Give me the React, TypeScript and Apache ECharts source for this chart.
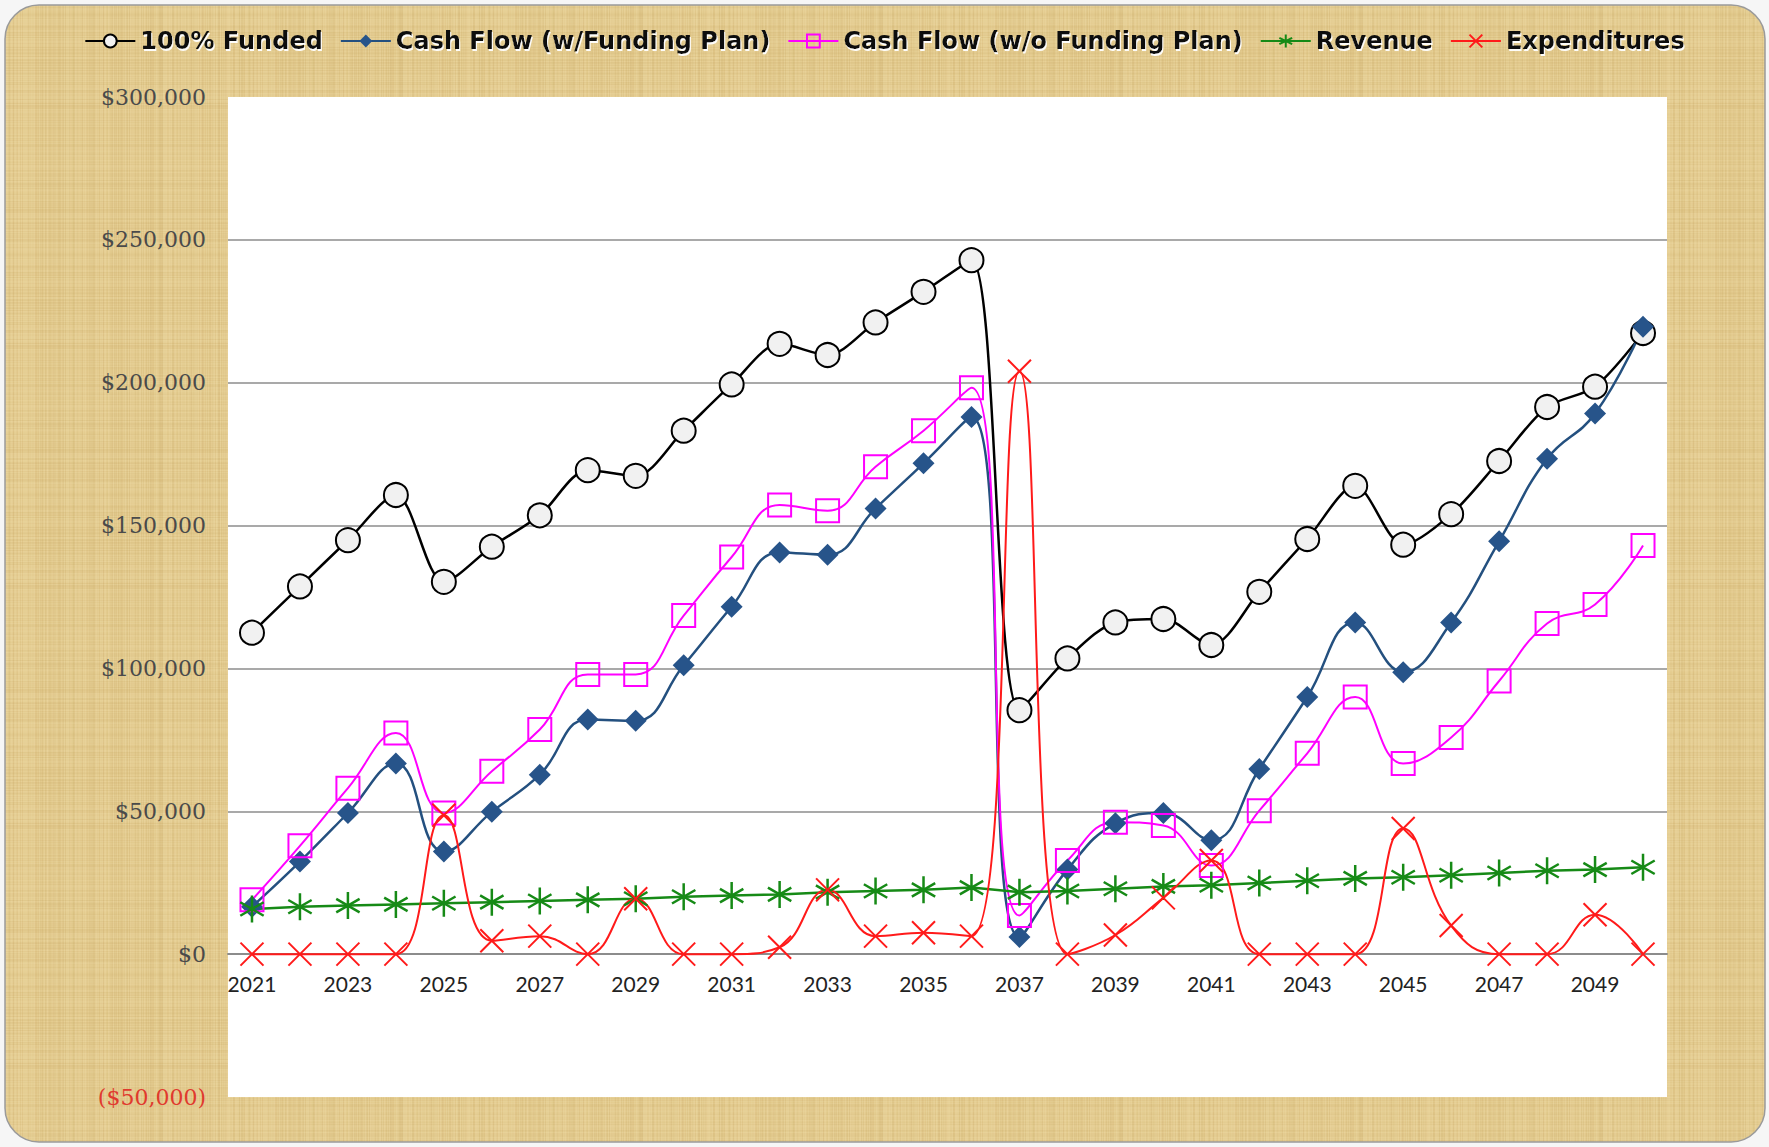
import React, { useEffect, useRef } from "react";
import * as echarts from "echarts";

const years = [
  "2021", "2022", "2023", "2024", "2025", "2026", "2027", "2028", "2029", "2030",
  "2031", "2032", "2033", "2034", "2035", "2036", "2037", "2038", "2039", "2040",
  "2041", "2042", "2043", "2044", "2045", "2046", "2047", "2048", "2049", "2050",
];

const funded100 = [
  112500, 128700, 144900, 160700, 130300, 142600, 153600, 169400, 167400, 183200,
  199400, 213600, 209700, 221100, 231800, 242900, 85400, 103500, 116100, 117300,
  108200, 126800, 145300, 163900, 143300, 154000, 172600, 191500, 198600, 217400,
];

const cashWithPlan = [
  16600, 32400, 49400, 66700, 35900, 49800, 62800, 82100, 81700, 101100,
  121600, 140600, 139800, 156000, 171800, 188000, 6000, 29600, 45800, 49400,
  39900, 64800, 90000, 116100, 98700, 116100, 144500, 173400, 189200, 219600,
];

const cashWithoutPlan = [
  19000, 37900, 58100, 77400, 49400, 64000, 78600, 97900, 97900, 118500,
  139000, 157200, 155200, 170600, 183200, 198200, 13500, 32800, 46200, 45000,
  31000, 50200, 70300, 90000, 66700, 75800, 95600, 115700, 122400, 143000,
];

const revenue = [
  15800, 16600, 17000, 17400, 17800, 18200, 18600, 19000, 19400, 20100,
  20500, 20900, 21700, 22100, 22500, 23300, 21700, 22100, 22900, 23700,
  24100, 24900, 25700, 26500, 26900, 27600, 28400, 29200, 29600, 30400,
];

const expenditures = [
  0, 0, 0, 0, 48600, 4700, 6300, 0, 19400, 0,
  0, 2400, 22500, 6300, 7500, 6300, 204000, 0, 6700, 19700,
  32800, 0, 0, 0, 44000, 10000, 0, 0, 13800, 0,
];

const seriesNames = [
  "100% Funded",
  "Cash Flow (w/Funding Plan)",
  "Cash Flow (w/o Funding Plan)",
  "Revenue",
  "Expenditures",
];

const yMin = -50000;
const yMax = 300000;
const yStep = 50000;

const W = 1769;
const H = 1147;
const gridTop = 97;
const gridBottom = 50;

function makeParchment(): HTMLCanvasElement {
  const c = document.createElement("canvas");
  c.width = 240;
  c.height = 240;
  const ctx = c.getContext("2d")!;
  ctx.fillStyle = "#e3cb8f";
  ctx.fillRect(0, 0, 240, 240);
  let seed = 12345;
  const rnd = () => {
    seed = (seed * 1103515245 + 12345) % 2147483648;
    return seed / 2147483648;
  };
  for (let x = 0; x < 240; x++) {
    const a = rnd() * 0.2;
    ctx.fillStyle = rnd() > 0.5 ? `rgba(195,160,90,${a})` : `rgba(248,232,185,${a})`;
    ctx.fillRect(x, 0, 1, 240);
  }
  for (let y = 0; y < 240; y++) {
    const a = rnd() * 0.14;
    ctx.fillStyle = rnd() > 0.5 ? `rgba(195,160,90,${a})` : `rgba(248,232,185,${a})`;
    ctx.fillRect(0, y, 240, 1);
  }
  return c;
}

const fmtMoney = (v: number) => {
  const s = Math.abs(v).toLocaleString("en-US");
  return v < 0 ? `($${s})` : `$${s}`;
};

export default function App() {
  const ref = useRef<HTMLDivElement>(null);

  useEffect(() => {
    document.body.style.margin = "0";
    if (!ref.current) return;
    const chart = echarts.init(ref.current, undefined, { renderer: "svg" });
    const pattern = makeParchment();

    const asterisk = "path://M10,0L10,20M1.34,5L18.66,15M1.34,15L18.66,5";
    const cross = "path://M0,0L20,20M0,20L20,0";

    const splitColors: string[] = [];
    for (let v = yMin; v <= yMax; v += yStep) {
      splitColors.push(v === yMin || v === yMax ? "rgba(0,0,0,0)" : "#8c8c8c");
    }

    // place the category axis on the zero line of the value axis
    const plotH = H - gridTop - gridBottom;
    const zeroOffset = -(plotH * (0 - yMin)) / (yMax - yMin);

    chart.setOption({
      animation: false,
      backgroundColor: "#f6f6f6",
      graphic: {
        elements: [
          {
            type: "rect",
            z: -100,
            silent: true,
            shape: { x: 5, y: 5, width: 1760, height: 1137, r: 34 },
            style: {
              fill: { image: pattern, repeat: "repeat" },
              stroke: "#9a9a9a",
              lineWidth: 1.5,
            },
          },
        ],
      },
      legend: {
        top: 24,
        left: "center",
        itemWidth: 50,
        itemHeight: 16,
        itemGap: 17,
        data: seriesNames,
        textStyle: {
          fontFamily: "DejaVu Sans",
          fontWeight: "bold",
          fontSize: 24,
          color: "#111",
          textShadowColor: "rgba(255,255,255,0.95)",
          textShadowOffsetX: 1,
          textShadowOffsetY: 2,
          textShadowBlur: 1,
        },
      },
      grid: {
        left: 228,
        right: 102,
        top: gridTop,
        bottom: gridBottom,
        show: true,
        backgroundColor: "#ffffff",
        borderWidth: 0,
      },
      xAxis: {
        type: "category",
        data: years,
        boundaryGap: true,
        position: "bottom",
        offset: zeroOffset,
        axisLine: { onZero: false, lineStyle: { color: "#8c8c8c", width: 2 } },
        axisTick: { show: false },
        axisLabel: {
          interval: 1,
          margin: 19,
          fontFamily: "Lato",
          fontSize: 21,
          color: "#222",
        },
        splitLine: { show: false },
      },
      yAxis: {
        type: "value",
        min: yMin,
        max: yMax,
        interval: yStep,
        axisLine: { show: false },
        axisTick: { show: false },
        axisLabel: {
          margin: 22,
          fontFamily: "DejaVu Serif",
          fontSize: 22,
          formatter: (v: number) => fmtMoney(v),
          color: (v: any) => (Number(v) < 0 ? "#e03a2e" : "#4a4a4a"),
        },
        splitLine: { show: true, lineStyle: { color: splitColors, width: 1.5 } },
      },
      series: [
        {
          name: seriesNames[0],
          type: "line",
          data: funded100,
          smooth: 0.3,
          symbol: "circle",
          symbolSize: 24,
          showAllSymbol: true,
          lineStyle: { color: "#000", width: 2.5 },
          itemStyle: { color: "#f1f1f1", borderColor: "#000", borderWidth: 2 },
        },
        {
          name: seriesNames[1],
          type: "line",
          data: cashWithPlan,
          smooth: 0.45,
          symbol: "diamond",
          symbolSize: 22,
          showAllSymbol: true,
          lineStyle: { color: "#24507f", width: 2.5 },
          itemStyle: { color: "#27548a", borderColor: "#27548a", borderWidth: 0 },
        },
        {
          name: seriesNames[2],
          type: "line",
          data: cashWithoutPlan,
          smooth: 0.45,
          symbol: "rect",
          symbolSize: 23,
          showAllSymbol: true,
          lineStyle: { color: "#ff00ff", width: 2 },
          itemStyle: { color: "rgba(255,255,255,0)", borderColor: "#ff00ff", borderWidth: 2 },
        },
        {
          name: seriesNames[3],
          type: "line",
          data: revenue,
          smooth: false,
          symbol: asterisk,
          symbolSize: 27,
          symbolKeepAspect: true,
          showAllSymbol: true,
          lineStyle: { color: "#168a16", width: 2.5 },
          itemStyle: { color: "rgba(0,0,0,0)", borderColor: "#168a16", borderWidth: 2.5 },
        },
        {
          name: seriesNames[4],
          type: "line",
          data: expenditures,
          smooth: 0.45,
          symbol: cross,
          symbolSize: 23,
          symbolKeepAspect: true,
          showAllSymbol: true,
          lineStyle: { color: "#ff1a1a", width: 2 },
          itemStyle: { color: "rgba(0,0,0,0)", borderColor: "#ff1a1a", borderWidth: 2 },
        },
      ],
    });

    return () => chart.dispose();
  }, []);

  return <div ref={ref} style={{ width: W, height: H }} />;
}
